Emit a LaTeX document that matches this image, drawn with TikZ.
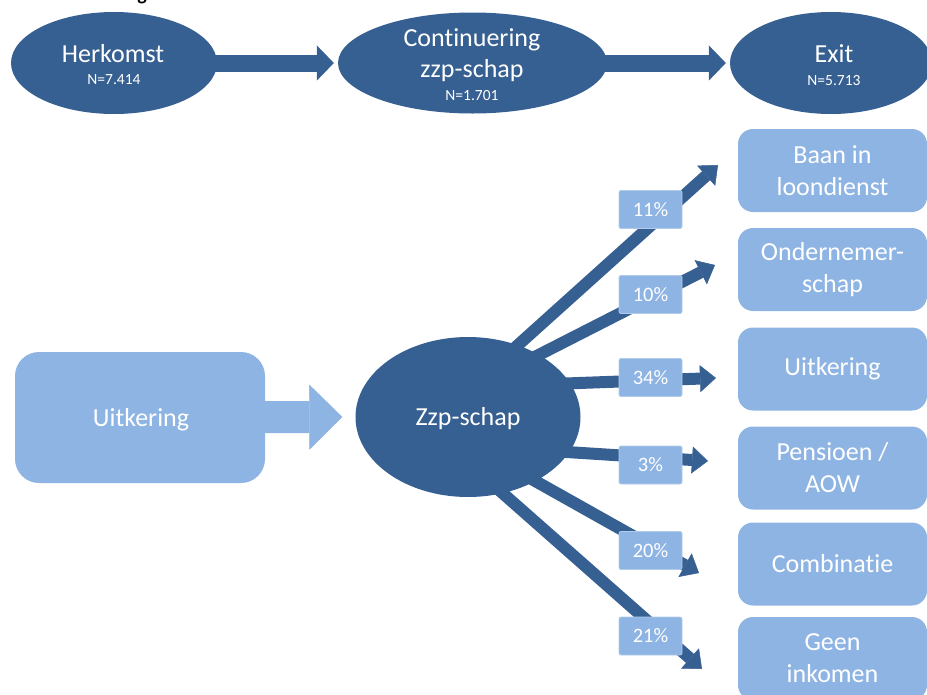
\documentclass[tikz,border=0pt]{standalone}
\usepackage{fontspec}
\setmainfont{Carlito}[Ligatures=NoCommon]
\usetikzlibrary{arrows.meta,shapes.geometric,backgrounds}
\definecolor{dkblue}{RGB}{55,96,146}
\definecolor{ltblue}{RGB}{142,180,227}
\begin{document}
\begin{tikzpicture}[x=1pt,y=-1pt,
  oval/.style={ellipse,fill=dkblue,draw=none,inner sep=0pt},
  bigtxt/.style={text=white,font=\fontsize{26}{32}\selectfont,inner sep=0pt,anchor=base},
  smalltxt/.style={text=white,font=\fontsize{15.5}{18}\selectfont,inner sep=0pt,anchor=base},
  outbox/.style={rectangle,rounded corners=15pt,fill=ltblue,draw=none,minimum width=189pt,minimum height=83pt,text=white,align=center,font=\fontsize{26}{32}\selectfont,inner sep=0pt},
  inbox/.style={rectangle,rounded corners=24pt,fill=ltblue,draw=none,minimum width=250pt,minimum height=131pt,inner sep=0pt},
  pct/.style={rectangle,rounded corners=2pt,fill=ltblue,draw=ltblue!70!white,line width=0.8pt,minimum width=63pt,minimum height=38pt,text=white,font=\fontsize{20.5}{24}\selectfont,inner sep=0pt},
  topflow/.style={draw=dkblue,line width=17pt,line cap=butt,-{Triangle[length=17pt,width=35pt,line width=0.5pt]}},
  flow/.style={draw=dkblue,line width=12pt,line cap=butt,-{Triangle[length=16pt,width=27pt,line width=0.5pt]}},
  inflow/.style={draw=ltblue,line width=32pt,line cap=butt,-{Triangle[length=33pt,width=65pt,line width=0.5pt]}},
]
\useasboundingbox (0,0) rectangle (927,694);

% cut-off title fragment
\node[font=\fontsize{20}{24}\selectfont\bfseries,anchor=base,inner sep=0pt] (ttl) at (142,0.5) {g};

% top row
\node[oval,minimum width=206pt,minimum height=102pt] (her) at (114,63) {};
\node[oval,minimum width=269pt,minimum height=101pt] (cont) at (472.5,63) {};
\node[oval,minimum width=202pt,minimum height=102pt] (exit) at (831,63) {};
\node[bigtxt] (herT) at (113,62) {Herkomst};
\node[smalltxt] (herN) at (114,84) {N=7.414};
\node[bigtxt] (contT1) at (472,46) {Continuering};
\node[bigtxt] (contT2) at (472,77) {zzp-schap};
\node[smalltxt] (contN) at (472,100) {N=1.701};
\node[bigtxt] (exitT) at (834,62) {Exit};
\node[smalltxt] (exitN) at (834,85) {N=5.713};

% middle
\node[inbox] (ub) at (140,417.5) {};
\node[bigtxt] (ubT) at (141,426) {Uitkering};
\node[oval,minimum width=225pt,minimum height=160pt] (zzp) at (468,417) {};
\node[bigtxt] (zzpT) at (468,425) {Zzp-schap};

% outcome boxes
\node[outbox] (o1) at (832.5,170.5) {Baan in\\loondienst};
\node[outbox] (o2) at (832.5,269.5) {Ondernemer-\\schap};
\node[outbox] (o3) at (832.5,369) {Uitkering};
\node[outbox] (o4) at (832.5,468) {Pensioen /\\AOW};
\node[outbox] (o5) at (832.5,564) {Combinatie};
\node[outbox] (o6) at (832.5,658.5) {Geen\\inkomen};

% arrow end points
\coordinate (s1) at (498,363); \coordinate (t1) at (718,165);
\coordinate (s2) at (515,367); \coordinate (t2) at (715,265);
\coordinate (s3) at (538,384.5); \coordinate (t3) at (716,378);
\coordinate (s4) at (535,450); \coordinate (t4) at (708,461);
\coordinate (s5) at (512,468); \coordinate (t5) at (699,573);
\coordinate (s6) at (482,475); \coordinate (t6) at (702,669);

% percentage labels
\node[pct] (p1) at (650.5,209.5) {11\%};
\node[pct] (p2) at (650.5,294.5) {10\%};
\node[pct] (p3) at (650.5,377.5) {34\%};
\node[pct] (p4) at (650.5,465) {3\%};
\node[pct] (p5) at (650.5,550.5) {20\%};
\node[pct] (p6) at (650.5,636) {21\%};

\begin{scope}[on background layer]
\draw[topflow] (her.center) -- ([xshift=-4pt]cont.west);
\draw[topflow] (cont.center) -- ([xshift=-4pt]exit.west);
\draw[inflow] (ub.center) -- ([xshift=-13pt]zzp.west);
\draw[flow] (s1) -- (t1);
\draw[flow] (s2) -- (t2);
\draw[flow] (s3) -- (t3);
\draw[flow] (s4) -- (t4);
\draw[flow] (s5) -- (t5);
\draw[flow] (s6) -- (t6);
\end{scope}
\end{tikzpicture}
\end{document}
